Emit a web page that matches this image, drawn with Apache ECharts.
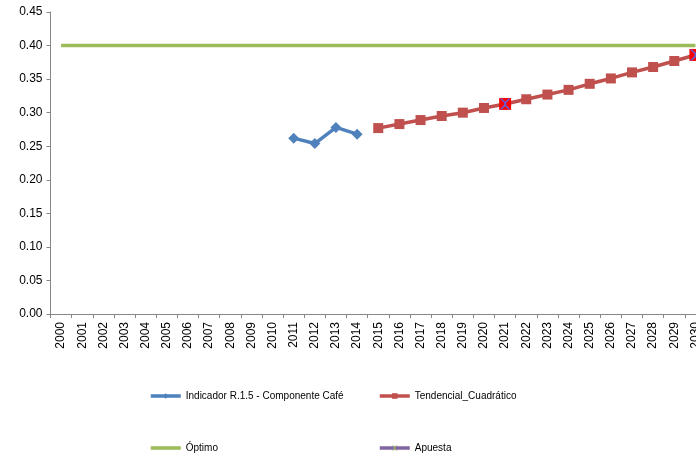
<!DOCTYPE html>
<html><head><meta charset="utf-8">
<script src="https://cdn.jsdelivr.net/npm/echarts@6/dist/echarts.min.js"></script>
<style>html,body{margin:0;padding:0;background:#fff}#c{width:696px;height:456px}</style>
</head><body><div id="c"></div>
<script>
const years = ['2000','2001','2002','2003','2004','2005','2006','2007','2008','2009','2010','2011','2012','2013','2014','2015','2016','2017','2018','2019','2020','2021','2022','2023','2024','2025','2026','2027','2028','2029','2030'];
const indicador = [null,null,null,null,null,null,null,null,null,null,null,0.262,0.254,0.278,0.268,null,null,null,null,null,null,null,null,null,null,null,null,null,null,null,null];
const tendencial = [null,null,null,null,null,null,null,null,null,null,null,null,null,null,null,0.277,0.283,0.289,0.295,0.300,0.307,0.313,0.320,0.327,0.334,0.343,0.351,0.360,0.368,0.377,0.386];
const optimo = years.map(() => 0.40);
const apuesta = [null,null,null,null,null,null,null,null,null,null,null,null,null,null,null,null,null,null,null,null,null,0.313,null,null,null,null,null,null,null,null,0.386];
const yTicks = ['0.00','0.05','0.10','0.15','0.20','0.25','0.30','0.35','0.40','0.45'];

const X = 'path://M0,0 L2,0 L5,3 L8,0 L10,0 L6,4 L6,6 L10,10 L8,10 L5,7 L2,10 L0,10 L4,6 L4,4 Z';
const chart = echarts.init(document.getElementById('c'));
const txt = {fontFamily:'Liberation Sans, Arial', fontSize:10, color:'#000'};
function lg(item, left, top){
  return {data:[item], left:left, top:top, itemWidth:30, itemHeight:7, itemGap:0, textStyle:txt, padding:0, selectedMode:false,
    lineStyle:{width:3.5}};
}
chart.setOption({
  animation:false,
  grid:{left:50.5, right:-10, top:12, bottom:142, outerBoundsMode:'none', containLabel:false},
  legend:[
    lg('Indicador R.1.5 - Componente Café',149,391),
    lg('Tendencial_Cuadrático',378,391),
    lg({name:'Óptimo', itemStyle:{opacity:0}},149,443),
    lg('Apuesta',378,443)],
  xAxis:{type:'category', data:years, boundaryGap:true,
    axisLine:{lineStyle:{color:'#868686'}}, axisTick:{show:true, length:4, lineStyle:{color:'#868686'}},
    axisLabel:{rotate:90, interval:0, fontFamily:'Liberation Sans, Arial', fontSize:12, color:'#000', margin:8}},
  yAxis:{type:'value', min:0, max:0.45, interval:0.05,
    axisLine:{show:true, lineStyle:{color:'#868686'}}, axisTick:{show:true, length:4, lineStyle:{color:'#868686'}},
    splitLine:{show:false},
    axisLabel:{fontFamily:'Liberation Sans, Arial', fontSize:12, color:'#000', margin:8, formatter:(v,i)=>yTicks[i]}},
  series:[
    {name:'Indicador R.1.5 - Componente Café', type:'line', data:indicador, symbol:'diamond', symbolSize:11,
      itemStyle:{color:'#4f81bd'}, lineStyle:{color:'#4f81bd', width:3.5}},
    {name:'Tendencial_Cuadrático', type:'line', data:tendencial, symbol:'rect', symbolSize:10,
      itemStyle:{color:'#c0504d'}, lineStyle:{color:'#c0504d', width:3.5}},
    {name:'Óptimo', type:'line', data:optimo, showSymbol:false, symbol:'none',
      itemStyle:{color:'#9bbb59'}, lineStyle:{color:'#9bbb59', width:3.5}},
    {name:'Apuesta', type:'line', data:apuesta.map(v => v==null ? null : {value:v, symbol:'rect', symbolSize:12, itemStyle:{color:'#ff0000'}}),
      symbol:X, symbolSize:8, itemStyle:{color:'#9bbb59'}, lineStyle:{color:'#8064a2', width:3.5}},
    {name:'ApuestaX', type:'line', data:apuesta, symbol:X, symbolSize:11, showSymbol:true,
      itemStyle:{color:'#6a5acd'}, lineStyle:{width:0}, z:5}
  ]
});
</script></body></html>
